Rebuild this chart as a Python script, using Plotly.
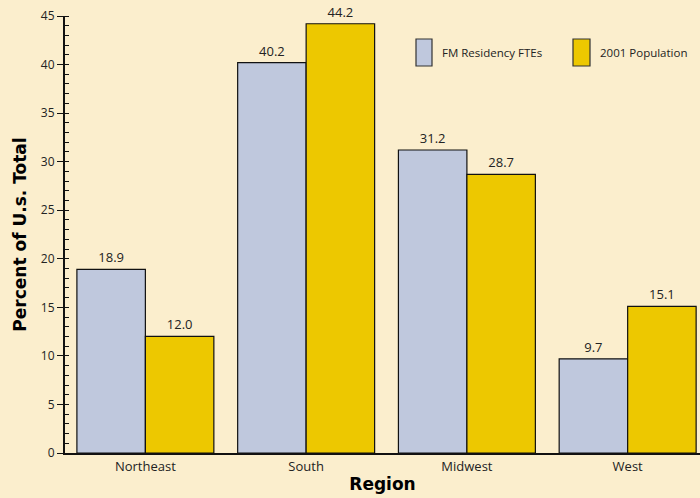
import plotly.graph_objects as go

regions = ["Northeast", "South", "Midwest", "West"]
fm_ftes = [18.9, 40.2, 31.2, 9.7]
population = [12.0, 44.2, 28.7, 15.1]
series_names = ["FM Residency FTEs", "2001 Population"]
y_ticks = [0, 5, 10, 15, 20, 25, 30, 35, 40, 45]

bg = "#FBEECD"
blue = "#BFC8DD"
gold = "#EDC800"
font = "Open Sans"

fig = go.Figure()
for name, vals, col in [(series_names[0], fm_ftes, blue), (series_names[1], population, gold)]:
    fig.add_trace(go.Bar(
        x=regions, y=vals, name=name, marker=dict(color=col, line=dict(color="#111111", width=1.2)),
        text=[f"{v:.1f}" for v in vals], textposition="outside",
        textfont=dict(family=font, size=13, color="#222222"), cliponaxis=False,
        showlegend=False,
    ))

fig.update_layout(
    width=700, height=498,
    margin=dict(l=65, r=0, t=16, b=45),
    paper_bgcolor=bg, plot_bgcolor=bg,
    barmode="group", bargap=0.148, bargroupgap=0,
    font=dict(family=font, size=12, color="#222222"),
    xaxis=dict(range=[-0.5, 3.45], showline=True, linecolor="#111111", linewidth=2,
               ticks="", tickfont=dict(size=13),
               title=dict(text="<b>Region</b>", font=dict(family="DejaVu Sans", size=17, color="#000000"), standoff=5)),
    yaxis=dict(range=[0, 45], tickvals=y_ticks, showgrid=False, zeroline=False,
               showline=True, linecolor="#111111", linewidth=2,
               ticks="outside", ticklen=6, tickwidth=1.3, tickcolor="#111111",
               minor=dict(dtick=1, ticks="inside", ticklen=4, tickwidth=1, tickcolor="#111111"),
               tickfont=dict(size=12),
               title=dict(text="<b>Percent of U.s. Total</b>", font=dict(family="DejaVu Sans", size=17, color="#000000"), standoff=10)),
)

# custom legend with tall swatches
for (x0, x1, tx), name, col in [((416, 432, 440), series_names[0], blue), ((573, 590, 598), series_names[1], gold)]:
    fig.add_shape(type="rect", xref="paper", yref="paper",
                  x0=(x0 - 65) / 635, x1=(x1 - 65) / 635,
                  y0=(453 - 66) / 437, y1=(453 - 39) / 437,
                  fillcolor=col, line=dict(color="#333333", width=1.2))
    fig.add_annotation(xref="paper", yref="paper", x=(tx - 65) / 635, y=(453 - 52.5) / 437,
                       text=name, showarrow=False, xanchor="left", yanchor="middle",
                       font=dict(family=font, size=11.5, color="#222222"))

fig.write_html("out.html")
